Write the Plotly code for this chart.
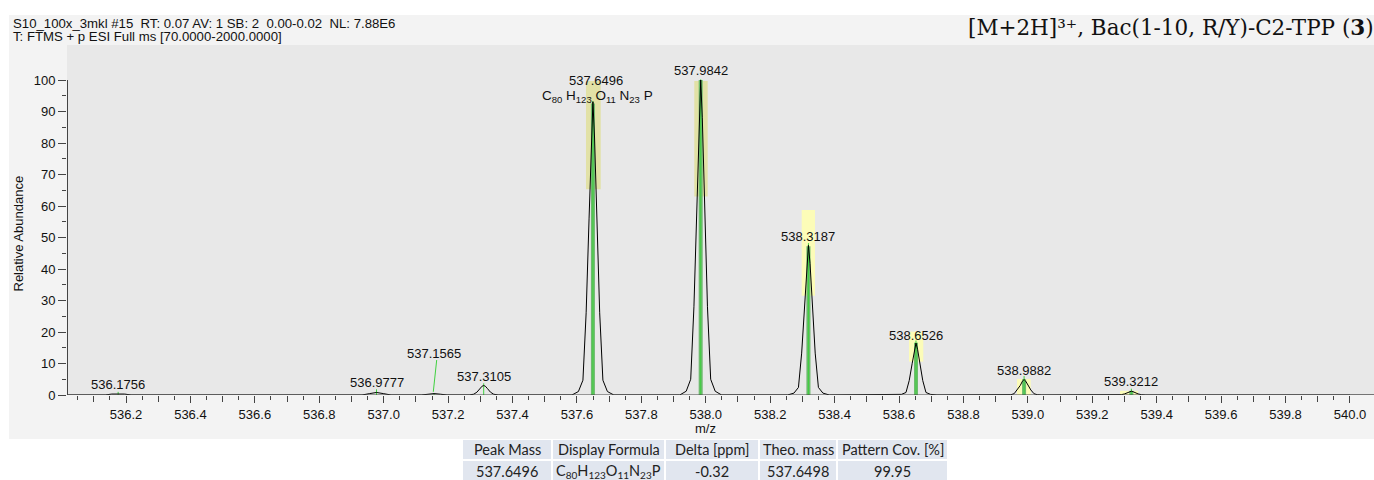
import plotly.graph_objects as go

W, H = 1374, 480          # design (reference) pixel grid
FIG_H = 488               # rendered figure height (the capture is scaled to 480)

# ---------------- data ----------------
profile_mz = [
    536.0168,
    536.1356, 536.1556, 536.1756, 536.1956, 536.2156,
    536.9327, 536.9567, 536.9777, 536.9987, 537.0227,
    537.1165, 537.1365, 537.1565, 537.1765, 537.1965,
    537.2655, 537.2795, 537.2895, 537.2985, 537.3055, 537.3105, 537.3155, 537.3225, 537.3315, 537.3415, 537.3555,
    537.5846, 537.6046, 537.6186, 537.6286, 537.6376, 537.6446, 537.6496, 537.6546, 537.6616, 537.6706, 537.6806, 537.6946, 537.7146,
    537.9192, 537.9392, 537.9532, 537.9632, 537.9722, 537.9792, 537.9842, 537.9892, 537.9962, 538.0052, 538.0152, 538.0292, 538.0492,
    538.2537, 538.2737, 538.2877, 538.2977, 538.3067, 538.3137, 538.3187, 538.3237, 538.3307, 538.3397, 538.3497, 538.3637, 538.3837,
    538.5876, 538.6076, 538.6216, 538.6316, 538.6406, 538.6476, 538.6526, 538.6576, 538.6646, 538.6736, 538.6836, 538.6976, 538.7176,
    538.9332, 538.9472, 538.9572, 538.9672, 538.9762, 538.9832, 538.9882, 538.9932, 539.0002, 539.0092, 539.0192, 539.0292, 539.0432,
    539.2762, 539.2902, 539.3002, 539.3092, 539.3162, 539.3212, 539.3262, 539.3332, 539.3422, 539.3522, 539.3662,
    540.0746,
]
profile_int = [
    0,
    0, 0.3, 0.35, 0.3, 0,
    0, 0.45, 0.8, 0.45, 0,
    0, 0.25, 0.45, 0.25, 0,
    0, 0.25, 0.9, 2.0, 2.8, 3.0, 2.8, 2.0, 0.9, 0.25, 0,
    0, 1.1, 4.7, 26.1, 55.9, 81.9, 93.1, 81.9, 55.9, 26.1, 4.7, 1.1, 0,
    0, 1.2, 5.0, 28.0, 60.0, 88.0, 100.0, 88.0, 60.0, 28.0, 5.0, 1.2, 0,
    0, 0.6, 2.4, 13.3, 28.5, 41.8, 47.5, 41.8, 28.5, 13.3, 2.4, 0.6, 0,
    0, 0.2, 0.8, 4.6, 9.9, 14.5, 16.5, 14.5, 9.9, 4.6, 0.8, 0.2, 0,
    0, 0.1, 0.4, 1.6, 3.0, 4.4, 4.9, 4.4, 3.0, 1.6, 0.4, 0.1, 0,
    0, 0.1, 0.35, 0.72, 1.06, 1.2, 1.06, 0.72, 0.35, 0.1, 0,
    0,
]

label_mz = [536.1756, 536.9777, 537.1565, 537.3105, 537.6496,
            537.9842, 538.3187, 538.6526, 538.9882, 539.3212]
label_text = ["536.1756", "536.9777", "537.1565", "537.3105", "537.6496",
              "537.9842", "538.3187", "538.6526", "538.9882", "539.3212"]
label_y = [3.2, 3.9, 13.2, 5.8, 99.8, 103.0, 50.3, 19.0, 7.9, 4.2]
centroid_int = [1.0, 1.8, 0.6, 3.7, 93.3, 100.2, 48.2, 17.3, 6.0, 2.0]

formula_elements = ["C", "H", "O", "N", "P"]
formula_counts = ["80", "123", "11", "23", ""]
formula_y = 94.7

leader_mz = [537.1540, 537.1646]
leader_int = [1.0, 11.1]

theo_mz = [537.6496, 537.9842, 538.3187, 538.6526, 538.9882, 539.3212]
theo_int = [92.5, 100.0, 47.2, 16.6, 5.0, 1.3]

box_x0 = [537.6281, 537.9643, 538.2978, 538.6309, 538.9662, 539.2860]
box_x1 = [537.6738, 538.0059, 538.3391, 538.6753, 539.0087, 539.3420]
box_y0 = [65.3, 63.0, 31.5, 10.6, 0.0, 0.0]
box_y1 = [99.7, 99.7, 58.7, 20.1, 5.1, 1.3]
box_colors = ["#e2e1a6", "#e2e1a6", "#fcfcb8", "#fcfcb8", "#fcfcb8", "#fcfcb8"]

x_label_ticks = [536.2, 536.4, 536.6, 536.8, 537.0, 537.2, 537.4, 537.6, 537.8, 538.0,
                 538.2, 538.4, 538.6, 538.8, 539.0, 539.2, 539.4, 539.6, 539.8, 540.0]
x_label_text = ["536.2", "536.4", "536.6", "536.8", "537.0", "537.2", "537.4", "537.6", "537.8", "538.0",
                "538.2", "538.4", "538.6", "538.8", "539.0", "539.2", "539.4", "539.6", "539.8", "540.0"]
x_mid_ticks = [536.1, 536.3, 536.5, 536.7, 536.9, 537.1, 537.3, 537.5, 537.7, 537.9,
               538.1, 538.3, 538.5, 538.7, 538.9, 539.1, 539.3, 539.5, 539.7, 539.9]
x_minor = [round(536.05 + 0.1 * i, 2) for i in range(40)]
y_ticks = [0, 10, 20, 30, 40, 50, 60, 70, 80, 90, 100]
y_minor = [5, 15, 25, 35, 45, 55, 65, 75, 85, 95]

header_line1 = "S10_100x_3mkl #15  RT: 0.07 AV: 1 SB: 2  0.00-0.02  NL: 7.88E6"
header_line2 = "T: FTMS + p ESI Full ms [70.0000-2000.0000]"
title_text = "[M+2H]\u00b3\u207a, Bac(1-10, R/Y)-C2-TPP (<b>3</b>)"

table_header = ["Peak Mass", "Display Formula", "Delta [ppm]", "Theo. mass", "Pattern Cov. [%]"]
table_row = ["537.6496", None, "-0.32", "537.6498", "99.95"]

# ---------------- helpers ----------------
X_RANGE = [536.0168, 540.0746]
Y_RANGE = [0, 111.11]
px = lambda v: v / W
py = lambda v: 1 - v / H

SANS = "Liberation Sans, Arial, sans-serif"
TXT = "#111111"


def formula_html(sep, sub_px, shift_px):
    parts = []
    for el, n in zip(formula_elements, formula_counts):
        s = el
        if n:
            s += '<span style="font-size:%.1fpx;baseline-shift:-%.1fpx">%s</span>' % (sub_px, shift_px, n)
        parts.append(s)
    return sep.join(parts)


fig = go.Figure()

fig.add_trace(go.Bar(x=theo_mz, y=theo_int, width=0.0125,
                     marker=dict(color="#6dbb6d", line=dict(width=0)),
                     hoverinfo="skip", showlegend=False))

sx, sy = [], []
for m, v in zip(label_mz, centroid_int):
    sx += [m, m, None]
    sy += [0, v, None]
fig.add_trace(go.Scatter(x=sx, y=sy, mode="lines",
                         line=dict(color="#3fd13f", width=1),
                         hoverinfo="skip", showlegend=False))
fig.add_trace(go.Scatter(x=leader_mz, y=leader_int, mode="lines",
                         line=dict(color="#3fd13f", width=1),
                         hoverinfo="skip", showlegend=False))

fig.add_trace(go.Scatter(x=profile_mz, y=profile_int, mode="lines",
                         line=dict(color="#000000", width=1),
                         hoverinfo="skip", showlegend=False))

fig.add_trace(go.Scatter(x=[X_RANGE[0]], y=[0], xaxis="x2", yaxis="y",
                         mode="markers", marker=dict(opacity=0),
                         hoverinfo="skip", showlegend=False))

shapes = []
shapes.append(dict(type="rect", xref="paper", yref="paper",
                   x0=px(9), x1=1.0, y0=py(439), y1=py(15),
                   fillcolor="#f3f3f3", line=dict(width=0), layer="below"))
shapes.append(dict(type="rect", xref="paper", yref="paper",
                   x0=px(67), x1=1.0, y0=py(395), y1=py(45),
                   fillcolor="#e8e8e8", line=dict(width=0), layer="below"))
for a, b, c, d, col in zip(box_x0, box_x1, box_y0, box_y1, box_colors):
    shapes.append(dict(type="rect", xref="x", yref="y", x0=a, x1=b, y0=c, y1=d,
                       fillcolor=col, line=dict(width=0), layer="below"))
shapes.append(dict(type="line", xref="x", yref="y", x0=X_RANGE[0], x1=540.0,
                   y0=0, y1=0, line=dict(color="#444", width=1), layer="above"))
shapes.append(dict(type="line", xref="paper", yref="y", x0=px(67.5), x1=px(67.5),
                   y0=0, y1=100, line=dict(color="#444", width=1), layer="above"))

col_edges = [(463, 551), (553, 664), (666, 758), (760, 836), (838, 947)]
row_edges = [(440, 459), (461, 481)]
for (r0, r1) in row_edges:
    for (c0, c1) in col_edges:
        shapes.append(dict(type="rect", xref="paper", yref="paper",
                           x0=px(c0), x1=px(c1), y0=py(r1), y1=py(r0),
                           fillcolor="#e1e6ef", line=dict(width=0), layer="below"))

annotations = []
for m, t, yv in zip(label_mz, label_text, label_y):
    xs = 3 if t == "537.6496" else 0
    annotations.append(dict(x=m, y=yv, xref="x", yref="y", text=t, showarrow=False,
                            xanchor="center", yanchor="middle", xshift=xs,
                            font=dict(family=SANS, size=13, color=TXT)))
annotations.append(dict(x=537.6496, y=formula_y, xref="x", yref="y",
                        text=formula_html(" ", 9.5, 3), showarrow=False,
                        xanchor="center", yanchor="middle", xshift=5,
                        font=dict(family=SANS, size=13.5, color=TXT)))

nb = lambda s: s.replace("  ", "\u00a0 ")
annotations.append(dict(x=px(11), y=py(23.5), xref="paper", yref="paper", text=nb(header_line1),
                        showarrow=False, xanchor="left", yanchor="middle",
                        font=dict(family=SANS, size=13.2, color=TXT)))
annotations.append(dict(x=px(11), y=py(36.5), xref="paper", yref="paper", text=nb(header_line2),
                        showarrow=False, xanchor="left", yanchor="middle",
                        font=dict(family=SANS, size=13.2, color=TXT)))
annotations.append(dict(x=px(1376), y=py(27), xref="paper", yref="paper", text=title_text,
                        showarrow=False, xanchor="right", yanchor="middle",
                        font=dict(family="DejaVu Serif, serif", size=21.5, color=TXT)))

annotations.append(dict(x=px(17.5), y=py(234), xref="paper", yref="paper", text="Relative Abundance",
                        showarrow=False, textangle=-90, xanchor="center", yanchor="middle",
                        font=dict(family=SANS, size=13, color=TXT)))
annotations.append(dict(x=px(705.5), y=py(428), xref="paper", yref="paper", text="m/z",
                        showarrow=False, xanchor="center", yanchor="middle",
                        font=dict(family=SANS, size=13, color=TXT)))

TFONT = "Lato, Carlito, Calibri, sans-serif"
for (c0, c1), t in zip(col_edges, table_header):
    annotations.append(dict(x=px((c0 + c1) / 2), y=py(449.5), xref="paper", yref="paper", text=t,
                            showarrow=False, xanchor="center", yanchor="middle",
                            font=dict(family=TFONT, size=14.5, color="#222")))
for (c0, c1), t in zip(col_edges, table_row):
    if t is None:
        t = formula_html("", 10, 3)
    annotations.append(dict(x=px((c0 + c1) / 2), y=py(471), xref="paper", yref="paper", text=t,
                            showarrow=False, xanchor="center", yanchor="middle",
                            font=dict(family=TFONT, size=14.5, color="#222")))

fig.update_layout(
    width=W, height=FIG_H,
    margin=dict(l=0, r=0, t=0, b=0),
    paper_bgcolor="#ffffff", plot_bgcolor="rgba(0,0,0,0)",
    showlegend=False, barmode="overlay",
    shapes=shapes, annotations=annotations,
    xaxis=dict(domain=[px(67), 1.0], range=X_RANGE, showgrid=False, zeroline=False,
               showline=False, tickmode="array", tickvals=x_label_ticks, ticktext=x_label_text,
               ticks="outside", ticklen=7, tickwidth=1, tickcolor="#444",
               tickfont=dict(family=SANS, size=13, color=TXT),
               minor=dict(tickmode="array", tickvals=x_minor, ticks="outside",
                          ticklen=4, tickwidth=1, tickcolor="#444")),
    xaxis2=dict(domain=[px(67), 1.0], range=X_RANGE, overlaying="x", anchor="y", side="bottom",
                showgrid=False, zeroline=False, showline=False, showticklabels=False,
                tickmode="array", tickvals=x_mid_ticks,
                ticks="outside", ticklen=6, tickwidth=1, tickcolor="#444"),
    yaxis=dict(domain=[py(395), py(45)], range=Y_RANGE, showgrid=False, zeroline=False,
               showline=False, tickmode="array", tickvals=y_ticks,
               ticks="outside", ticklen=8, tickwidth=1, tickcolor="#444",
               tickfont=dict(family=SANS, size=13, color=TXT),
               minor=dict(tickmode="array", tickvals=y_minor, ticks="outside",
                          ticklen=4, tickwidth=1, tickcolor="#444")),
)

fig.write_html("out.html")
